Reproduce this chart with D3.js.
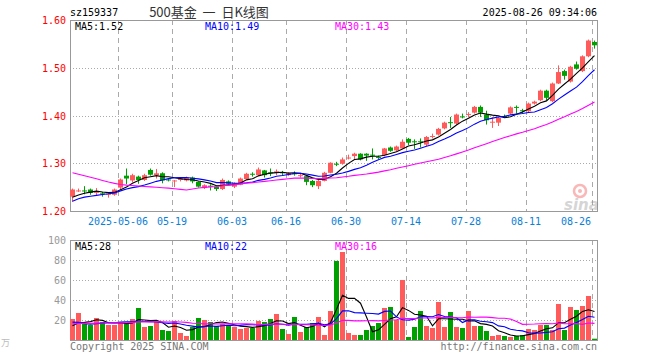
<!DOCTYPE html>
<html>
<head>
<meta charset="utf-8">
<script src="https://cdn.jsdelivr.net/npm/d3@7"></script>
<style>
  body { margin: 0; background: #fff; }
  text { font-family: "DejaVu Sans Mono", "Liberation Mono", monospace; font-size: 10px; }
</style>
</head>
<body>
<svg id="kline"></svg>
<script>
const dates = [
  "2025-04-21","2025-04-22","2025-04-23","2025-04-24","2025-04-25","2025-04-28","2025-04-29","2025-04-30",
  "2025-05-06","2025-05-07","2025-05-08","2025-05-09","2025-05-12","2025-05-13","2025-05-14","2025-05-15","2025-05-16",
  "2025-05-19","2025-05-20","2025-05-21","2025-05-22","2025-05-23","2025-05-26","2025-05-27","2025-05-28","2025-05-29","2025-05-30",
  "2025-06-03","2025-06-04","2025-06-05","2025-06-06","2025-06-09","2025-06-10","2025-06-11","2025-06-12","2025-06-13",
  "2025-06-16","2025-06-17","2025-06-18","2025-06-19","2025-06-20","2025-06-23","2025-06-24","2025-06-25","2025-06-26","2025-06-27",
  "2025-06-30","2025-07-01","2025-07-02","2025-07-03","2025-07-04","2025-07-07","2025-07-08","2025-07-09","2025-07-10","2025-07-11",
  "2025-07-14","2025-07-15","2025-07-16","2025-07-17","2025-07-18","2025-07-21","2025-07-22","2025-07-23","2025-07-24","2025-07-25",
  "2025-07-28","2025-07-29","2025-07-30","2025-07-31","2025-08-01","2025-08-04","2025-08-05","2025-08-06","2025-08-07","2025-08-08",
  "2025-08-11","2025-08-12","2025-08-13","2025-08-14","2025-08-15","2025-08-18","2025-08-19","2025-08-20","2025-08-21","2025-08-22",
  "2025-08-25","2025-08-26"
];

const open = [
  1.230,1.242,1.243,1.245,1.239,1.237,1.235,1.234,1.249,1.274,
  1.264,1.272,1.265,1.286,1.275,1.279,1.266,1.263,1.266,1.264,
  1.270,1.261,1.248,1.253,1.251,1.246,1.262,1.251,1.255,1.267,
  1.278,1.275,1.285,1.281,1.282,1.281,1.275,1.279,1.274,1.273,
  1.263,1.252,1.263,1.280,1.299,1.299,1.311,1.315,1.320,1.320,
  1.318,1.313,1.317,1.333,1.327,1.331,1.351,1.346,1.346,1.339,
  1.356,1.360,1.373,1.386,1.383,1.398,1.402,1.406,1.418,1.402,
  1.386,1.385,1.399,1.404,1.418,1.411,1.409,1.425,1.432,1.452,
  1.430,1.467,1.493,1.471,1.507,1.493,1.524,1.554
];
const close = [
  1.245,1.243,1.242,1.238,1.240,1.236,1.236,1.245,1.266,1.268,
  1.275,1.265,1.275,1.276,1.279,1.264,1.265,1.264,1.267,1.270,
  1.262,1.251,1.254,1.252,1.246,1.265,1.257,1.258,1.268,1.278,
  1.277,1.287,1.275,1.280,1.283,1.280,1.279,1.278,1.275,1.261,
  1.254,1.263,1.280,1.301,1.298,1.308,1.312,1.320,1.308,1.316,
  1.317,1.312,1.331,1.326,1.335,1.345,1.343,1.345,1.345,1.355,
  1.357,1.372,1.385,1.385,1.402,1.397,1.403,1.418,1.406,1.390,
  1.387,1.395,1.398,1.417,1.417,1.410,1.425,1.429,1.452,1.437,
  1.467,1.491,1.483,1.502,1.498,1.524,1.557,1.547
];
const high = [
  1.247,1.247,1.252,1.247,1.248,1.240,1.238,1.247,1.268,1.289,
  1.278,1.274,1.278,1.289,1.288,1.281,1.268,1.265,1.270,1.272,
  1.272,1.262,1.256,1.256,1.252,1.268,1.264,1.260,1.270,1.280,
  1.281,1.291,1.286,1.289,1.287,1.284,1.281,1.283,1.278,1.275,
  1.265,1.265,1.282,1.302,1.303,1.312,1.318,1.322,1.321,1.321,
  1.331,1.316,1.332,1.335,1.337,1.350,1.353,1.350,1.352,1.357,
  1.362,1.374,1.387,1.397,1.404,1.404,1.407,1.420,1.421,1.410,
  1.396,1.397,1.402,1.419,1.421,1.414,1.427,1.431,1.454,1.454,
  1.469,1.505,1.496,1.504,1.513,1.526,1.559,1.557
];
const low = [
  1.219,1.240,1.235,1.234,1.232,1.230,1.228,1.232,1.245,1.256,
  1.260,1.257,1.263,1.274,1.268,1.258,1.262,1.250,1.262,1.262,
  1.258,1.249,1.246,1.243,1.242,1.244,1.255,1.248,1.254,1.266,
  1.272,1.274,1.270,1.273,1.275,1.274,1.273,1.274,1.270,1.254,
  1.250,1.246,1.262,1.279,1.294,1.297,1.308,1.309,1.306,1.305,
  1.308,1.308,1.315,1.324,1.325,1.330,1.338,1.330,1.333,1.336,
  1.352,1.358,1.371,1.374,1.381,1.394,1.396,1.404,1.397,1.381,
  1.374,1.378,1.395,1.402,1.404,1.404,1.407,1.423,1.430,1.432,
  1.428,1.466,1.475,1.469,1.496,1.491,1.522,1.540
];
// volume, 万手
const volume = [
  21,27,16,15,22,18,15,15,17,17,
  21,32,13,14,18,10,9,19,7,4,
  13,22,20,18,14,16,15,13,11,12,
  12,19,18,21,26,11,6,23,8,13,
  17,23,5,29,79,88,7,5,5,10,
  14,17,32,33,20,60,3,13,29,14,
  12,38,13,28,13,12,29,14,14,9,
  4,5,4,3,4,5,11,10,15,15,
  10,36,10,33,30,34,44,1.3
];
// closes and volumes before the visible window, only used to seed the moving averages
const prevClose = [
  1.335,1.340,1.330,1.335,1.340,1.335,1.330,1.335,1.310,1.300,
  1.295,1.300,1.305,1.300,1.295,1.290,1.300,1.310,1.310,1.200,
  1.190,1.210,1.220,1.220,1.220,1.220,1.225,1.225,1.230
];
const prevVolume = [
  14,12,15,13,16,12,14,15,13,12,
  15,14,13,16,12,14,13,15,14,40,
  30,28,20,17,13,12,14,11,13
];

const tickDates = ["2025-05-06","2025-05-19","2025-06-03","2025-06-16","2025-06-30","2025-07-14","2025-07-28","2025-08-11","2025-08-26"];
const tickLabels = ["2025-05-06","05-19","06-03","06-16","06-30","07-14","07-28","08-11","08-26"];
const priceTicks = [1.20, 1.30, 1.40, 1.50, 1.60];
const volTicks = [0, 20, 40, 60, 80, 100];

const width = 660, height = 360;
const left = 70, right = 598;
const red = "#ff5b5b", green = "#00a000";

const svg = d3.select("#kline").attr("width", width).attr("height", height);
svg.append("rect").attr("width", width).attr("height", height).attr("fill", "#fff");

const x = d3.scaleBand().domain(dates).range([left, right]).padding(0);
const yP = d3.scaleLinear().domain([1.20, 1.60]).range([211, 20]);
const yV = d3.scaleLinear().domain([0, 100]).range([340, 240]);

function movingAvg(prev, vals, n) {
  const all = prev.concat(vals);
  return vals.map((v, i) => d3.mean(all.slice(i + prev.length - n + 1, i + prev.length + 1)));
}

const data = dates.map((d, i) => ({date: d, o: open[i], c: close[i], h: high[i], l: low[i], v: volume[i]}));

function panel(y, top, bottom, ticks, fmt, labelColor) {
  const g = svg.append("g");
  g.selectAll(".hg").data(ticks.filter(t => y(t) > top + 1 && y(t) < bottom - 1))
    .join("line")
    .attr("x1", left).attr("x2", 597)
    .attr("y1", t => Math.round(y(t)) + 0.5).attr("y2", t => Math.round(y(t)) + 0.5)
    .attr("stroke", "#aaa").attr("stroke-dasharray", "1,2");
  g.selectAll(".vg").data(tickDates)
    .join("line")
    .attr("x1", d => x(d) + 0.5).attr("x2", d => x(d) + 0.5)
    .attr("y1", top).attr("y2", bottom)
    .attr("stroke", "#aaa").attr("stroke-dasharray", "5,4");
  g.append("rect")
    .attr("x", left + 0.5).attr("y", top + 0.5)
    .attr("width", 597 - left).attr("height", bottom - top)
    .attr("fill", "none").attr("stroke", "#999");
  g.selectAll(".tl").data(ticks)
    .join("text")
    .attr("x", 66).attr("y", t => y(t) + 4)
    .attr("text-anchor", "end")
    .attr("fill", labelColor)
    .text(fmt);
}

panel(yP, 20, 211, priceTicks, d3.format(".2f"), "#f00");
panel(yV, 240, 340, volTicks.filter(t => t > 0), d3.format("d"), "#999");

// candles
const cx = d => x(d.date) + 2.5;
const candle = svg.append("g");
candle.selectAll("line").data(data).join("line")
  .attr("x1", d => Math.floor(cx(d)) + 0.5).attr("x2", d => Math.floor(cx(d)) + 0.5)
  .attr("y1", d => yP(d.h)).attr("y2", d => yP(d.l))
  .attr("stroke", d => d.c >= d.o ? red : green).attr("stroke-width", 1);
candle.selectAll("rect").data(data).join("rect")
  .attr("x", d => x(d.date))
  .attr("width", 5)
  .attr("y", d => yP(Math.max(d.o, d.c)))
  .attr("height", d => Math.max(1, Math.abs(yP(d.o) - yP(d.c))))
  .attr("fill", d => d.c >= d.o ? red : green);

// volume bars
svg.append("g").selectAll("rect").data(data).join("rect")
  .attr("x", d => x(d.date))
  .attr("width", 5)
  .attr("y", d => yV(d.v))
  .attr("height", d => yV(0) - yV(d.v))
  .attr("fill", d => d.c >= d.o ? red : green);

// moving averages
const maDefs = [{n: 5, color: "#000"}, {n: 10, color: "#00f"}, {n: 30, color: "#f0f"}];
const lineP = d3.line().x((d, i) => x(dates[i]) + 2.5).y(d => yP(d));
const lineV = d3.line().x((d, i) => x(dates[i]) + 2.5).y(d => yV(d));
svg.append("clipPath").attr("id", "clipP").append("rect").attr("x", left + 1).attr("y", 21).attr("width", 596 - left).attr("height", 190);
svg.append("clipPath").attr("id", "clipV").append("rect").attr("x", left + 1).attr("y", 241).attr("width", 596 - left).attr("height", 99);
maDefs.forEach(m => {
  svg.append("path").attr("clip-path", "url(#clipP)")
    .attr("d", lineP(movingAvg(prevClose, close, m.n)))
    .attr("fill", "none").attr("stroke", m.color).attr("stroke-width", 1.1);
  svg.append("path").attr("clip-path", "url(#clipV)")
    .attr("d", lineV(movingAvg(prevVolume, volume, m.n)))
    .attr("fill", "none").attr("stroke", m.color).attr("stroke-width", 1.1);
});

// date labels
svg.append("g").selectAll("text").data(tickDates).join("text")
  .attr("x", (d, i) => i === tickDates.length - 1 ? x(d) - 1 : x(d))
  .attr("y", 225)
  .attr("text-anchor", (d, i) => i === tickDates.length - 1 ? "end" : "middle")
  .attr("fill", "#0a80d8")
  .text((d, i) => tickLabels[i]);

// MA legends
const priceLegend = ["MA5:1.52", "MA10:1.49", "MA30:1.43"];
const volLegend = ["MA5:28", "MA10:22", "MA30:16"];
const legendX = [75, 205, 335];
maDefs.forEach((m, i) => {
  svg.append("text").attr("x", legendX[i]).attr("y", 30).attr("fill", m.color).text(priceLegend[i]);
  svg.append("text").attr("x", legendX[i]).attr("y", 250).attr("fill", m.color).text(volLegend[i]);
});

// header
svg.append("text").attr("x", 70).attr("y", 16).attr("fill", "#000").text("sz159337");
svg.append("text").attr("x", 209).attr("y", 17).attr("text-anchor", "middle")
  .style("font-family", "'Noto Sans CJK SC', sans-serif").style("font-size", "13px")
  .style("white-space", "pre")
  .attr("fill", "#333").text("500基金  一  日K线图");
svg.append("text").attr("x", 597).attr("y", 16).attr("text-anchor", "end").attr("fill", "#000").text("2025-08-26 09:34:06");

// footer
svg.append("text").attr("x", 70).attr("y", 350).attr("fill", "#777").text("Copyright 2025 SINA.COM");
svg.append("text").attr("x", 597).attr("y", 350).attr("text-anchor", "end").attr("fill", "#777").text("http://finance.sina.com.cn");
svg.append("text").attr("x", 1).attr("y", 346).attr("fill", "#bbb")
  .style("font-family", "'Noto Sans CJK SC', sans-serif").style("font-size", "9px").text("万");

// sina watermark
const wm = svg.append("g").attr("opacity", 0.35);
wm.append("circle").attr("cx", 580).attr("cy", 191).attr("r", 6).attr("fill", "none").attr("stroke", "#e33").attr("stroke-width", 2.5);
wm.append("circle").attr("cx", 580).attr("cy", 191).attr("r", 2).attr("fill", "#e33");
wm.append("text").attr("x", 564).attr("y", 210)
  .style("font-family", "'DejaVu Sans', sans-serif").style("font-size", "15px")
  .style("font-weight", "bold").style("font-style", "italic")
  .attr("fill", "#888").text("sina");
</script>
</body>
</html>
